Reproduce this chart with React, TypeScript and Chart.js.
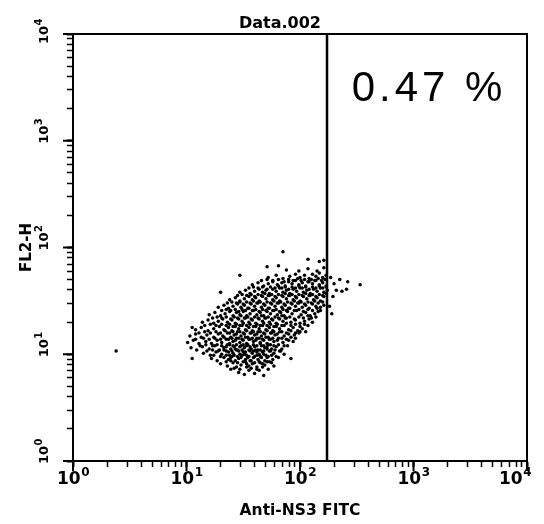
import React, { useEffect, useRef } from 'react';
import { Chart, registerables } from 'chart.js';

Chart.register(...registerables);

const TITLE = 'Data.002';
const X_TITLE = 'Anti-NS3 FITC';
const Y_TITLE = 'FL2-H';
const GATE_PERCENT = '0.47 %';
const GATE_X = [173];
const AXIS_RANGE = [1, 10000];
const DECADES = [1, 10, 100, 1000, 10000];
const DECADE_BASE = '10';
const DECADE_EXPONENTS = ['0', '1', '2', '3', '4'];
const MINOR_STEPS = [2, 3, 4, 5, 6, 7, 8, 9];

// events: [log10(Anti-NS3 FITC), log10(FL2-H)]
const eventsLog: [number, number][] = [
  [1.39,0.86],[1.46,0.83],[1.51,0.81],[1.55,0.85],[1.60,0.82],[1.64,0.85],[1.68,0.80],[1.72,0.86],
  [1.30,0.91],[1.36,0.89],[1.41,0.92],[1.44,0.88],[1.48,0.90],[1.52,0.93],[1.55,0.89],[1.58,0.91],[1.62,0.88],[1.65,0.92],[1.69,0.90],[1.73,0.93],[1.77,0.89],
  [1.22,0.96],[1.27,0.94],[1.33,0.97],[1.37,0.95],[1.40,0.98],[1.43,0.94],[1.46,0.96],[1.49,0.99],[1.52,0.95],[1.54,0.97],[1.57,0.94],[1.60,0.98],[1.63,0.95],[1.66,0.97],[1.69,0.94],[1.72,0.98],[1.76,0.95],[1.81,0.97],[1.92,0.96],
  [1.15,1.01],[1.21,0.99],[1.26,1.02],[1.31,1.00],[1.35,1.03],[1.38,0.99],[1.41,1.01],[1.44,1.04],[1.47,1.00],[1.50,1.02],[1.53,0.99],[1.56,1.03],[1.58,1.01],[1.61,1.04],[1.64,1.00],[1.67,1.02],[1.70,0.99],[1.73,1.03],[1.77,1.01],[1.82,1.03],[1.86,1.00],
  [1.04,1.06],[1.09,1.04],[1.14,1.07],[1.20,1.05],[1.25,1.08],[1.29,1.04],[1.33,1.06],[1.36,1.09],[1.39,1.05],[1.42,1.07],[1.45,1.04],[1.48,1.08],[1.51,1.06],[1.54,1.09],[1.57,1.05],[1.60,1.07],[1.63,1.04],[1.66,1.08],[1.69,1.06],[1.72,1.09],[1.75,1.05],[1.79,1.07],[1.84,1.05],[1.89,1.08],
  [1.01,1.11],[1.06,1.13],[1.11,1.10],[1.17,1.12],[1.22,1.10],[1.27,1.13],[1.31,1.11],[1.35,1.14],[1.38,1.10],[1.41,1.12],[1.44,1.15],[1.47,1.11],[1.50,1.13],[1.53,1.10],[1.56,1.14],[1.59,1.12],[1.62,1.15],[1.65,1.11],[1.68,1.13],[1.71,1.10],[1.74,1.14],[1.77,1.12],[1.81,1.15],[1.85,1.11],[1.90,1.13],[1.94,1.12],
  [1.03,1.17],[1.08,1.19],[1.13,1.16],[1.18,1.18],[1.24,1.16],[1.28,1.19],[1.32,1.17],[1.36,1.20],[1.39,1.16],[1.42,1.18],[1.45,1.21],[1.48,1.17],[1.51,1.19],[1.54,1.16],[1.57,1.20],[1.60,1.18],[1.63,1.21],[1.66,1.17],[1.69,1.19],[1.72,1.16],[1.75,1.20],[1.78,1.18],[1.82,1.21],[1.86,1.17],[1.90,1.19],[1.95,1.18],[1.99,1.20],
  [1.08,1.23],[1.13,1.25],[1.19,1.22],[1.24,1.24],[1.29,1.26],[1.33,1.23],[1.37,1.25],[1.40,1.22],[1.43,1.26],[1.46,1.24],[1.49,1.27],[1.52,1.23],[1.55,1.25],[1.58,1.22],[1.61,1.26],[1.64,1.24],[1.67,1.27],[1.70,1.23],[1.73,1.25],[1.76,1.22],[1.79,1.26],[1.82,1.24],[1.86,1.27],[1.90,1.23],[1.94,1.25],[1.98,1.22],[2.02,1.24],[2.05,1.21],
  [1.14,1.30],[1.19,1.32],[1.24,1.29],[1.28,1.31],[1.32,1.33],[1.36,1.30],[1.40,1.32],[1.43,1.29],[1.46,1.33],[1.49,1.31],[1.52,1.34],[1.55,1.30],[1.58,1.32],[1.61,1.29],[1.64,1.33],[1.67,1.31],[1.70,1.34],[1.73,1.30],[1.76,1.32],[1.79,1.29],[1.82,1.33],[1.85,1.31],[1.88,1.34],[1.92,1.30],[1.96,1.32],[2.00,1.29],[2.04,1.31],[2.08,1.33],[2.11,1.30],
  [1.20,1.37],[1.25,1.39],[1.30,1.36],[1.34,1.38],[1.38,1.40],[1.41,1.36],[1.44,1.39],[1.47,1.37],[1.50,1.40],[1.53,1.36],[1.56,1.38],[1.59,1.41],[1.62,1.37],[1.65,1.39],[1.68,1.36],[1.71,1.40],[1.74,1.38],[1.77,1.41],[1.80,1.37],[1.83,1.39],[1.86,1.36],[1.89,1.40],[1.93,1.38],[1.97,1.41],[2.01,1.37],[2.05,1.39],[2.09,1.36],[2.13,1.38],[2.16,1.40],
  [1.28,1.44],[1.33,1.46],[1.37,1.43],[1.41,1.45],[1.45,1.47],[1.48,1.44],[1.51,1.46],[1.54,1.43],[1.57,1.47],[1.60,1.45],[1.63,1.48],[1.66,1.44],[1.69,1.46],[1.72,1.43],[1.75,1.47],[1.78,1.45],[1.81,1.48],[1.84,1.44],[1.87,1.46],[1.90,1.43],[1.93,1.47],[1.96,1.45],[1.99,1.48],[2.02,1.44],[2.05,1.46],[2.08,1.43],[2.11,1.47],[2.14,1.45],[2.18,1.44],[2.21,1.46],
  [1.38,1.51],[1.43,1.53],[1.47,1.50],[1.51,1.52],[1.55,1.54],[1.58,1.51],[1.61,1.53],[1.64,1.50],[1.67,1.54],[1.70,1.52],[1.73,1.55],[1.76,1.51],[1.79,1.53],[1.82,1.50],[1.85,1.54],[1.88,1.52],[1.91,1.55],[1.94,1.51],[1.97,1.53],[2.00,1.50],[2.03,1.54],[2.06,1.52],[2.09,1.55],[2.12,1.51],[2.15,1.53],[2.18,1.50],[2.21,1.54],
  [1.47,1.58],[1.52,1.60],[1.56,1.57],[1.60,1.59],[1.64,1.61],[1.67,1.58],[1.70,1.60],[1.73,1.57],[1.76,1.61],[1.79,1.59],[1.82,1.62],[1.85,1.58],[1.88,1.60],[1.91,1.57],[1.94,1.61],[1.97,1.59],[2.00,1.62],[2.03,1.58],[2.06,1.60],[2.09,1.57],[2.12,1.61],[2.15,1.59],[2.18,1.62],[2.21,1.58],[2.24,1.60],
  [1.58,1.65],[1.63,1.67],[1.68,1.64],[1.72,1.66],[1.76,1.68],[1.80,1.65],[1.84,1.67],[1.87,1.64],[1.90,1.68],[1.93,1.66],[1.96,1.69],[1.99,1.65],[2.02,1.67],[2.05,1.64],[2.08,1.68],[2.11,1.66],[2.14,1.69],[2.17,1.65],[2.20,1.67],[2.23,1.64],
  [1.72,1.72],[1.79,1.74],[1.85,1.71],[1.91,1.73],[1.96,1.75],[2.00,1.72],[2.04,1.74],[2.08,1.71],[2.11,1.75],[2.14,1.73],[2.17,1.76],[2.20,1.72],[2.23,1.74],
  [1.88,1.79],[1.99,1.78],[2.07,1.80],[2.15,1.78],[2.21,1.81],
  [1.71,1.82],[1.81,1.83],[1.85,1.96],[2.07,1.89],[2.17,1.87],[2.21,1.88],[2.53,1.65],[2.35,1.70],[2.42,1.68],[2.41,1.61],[2.29,1.54],[2.26,1.45],[2.30,1.66],[2.27,1.72],[2.32,1.60],[0.38,1.03],[1.05,0.96],[1.47,1.74],[1.30,1.58],[2.37,1.59],[2.28,1.38],[1.05,1.25],
  [1.42,0.87],[1.47,0.86],[1.53,0.88],[1.57,0.87],[1.62,0.86],[1.67,0.88],
  [1.35,0.93],[1.39,0.94],[1.45,0.92],[1.50,0.93],[1.53,0.91],[1.56,0.94],[1.60,0.92],[1.64,0.93],[1.67,0.91],[1.71,0.93],[1.75,0.92],
  [1.24,0.99],[1.30,0.98],[1.35,0.99],[1.39,0.97],[1.42,0.99],[1.45,0.98],[1.48,0.97],[1.51,1.00],[1.55,0.98],[1.59,0.97],[1.62,0.99],[1.65,0.98],[1.68,1.00],[1.71,0.97],[1.75,0.99],[1.79,0.98],
  [1.18,1.03],[1.23,1.04],[1.28,1.03],[1.33,1.04],[1.37,1.02],[1.40,1.03],[1.43,1.05],[1.46,1.03],[1.49,1.04],[1.52,1.02],[1.55,1.04],[1.59,1.03],[1.62,1.02],[1.65,1.04],[1.68,1.03],[1.71,1.05],[1.74,1.03],[1.78,1.04],[1.83,1.03],
  [1.12,1.08],[1.17,1.09],[1.23,1.08],[1.27,1.09],[1.31,1.08],[1.35,1.07],[1.38,1.09],[1.41,1.08],[1.44,1.09],[1.47,1.07],[1.50,1.09],[1.53,1.08],[1.56,1.07],[1.59,1.09],[1.62,1.08],[1.65,1.10],[1.68,1.08],[1.71,1.07],[1.74,1.09],[1.77,1.08],[1.81,1.09],[1.86,1.08],
  [1.08,1.14],[1.15,1.15],[1.20,1.14],[1.25,1.15],[1.30,1.14],[1.33,1.16],[1.37,1.14],[1.40,1.15],[1.43,1.13],[1.46,1.15],[1.49,1.14],[1.52,1.16],[1.55,1.14],[1.58,1.15],[1.61,1.13],[1.64,1.15],[1.67,1.14],[1.70,1.16],[1.73,1.14],[1.76,1.15],[1.80,1.13],[1.84,1.15],[1.88,1.14],[1.92,1.16],[1.96,1.15],
  [1.11,1.20],[1.16,1.21],[1.21,1.20],[1.26,1.21],[1.30,1.20],[1.34,1.22],[1.38,1.20],[1.41,1.21],[1.44,1.19],[1.47,1.21],[1.50,1.20],[1.53,1.22],[1.56,1.20],[1.59,1.21],[1.62,1.19],[1.65,1.21],[1.68,1.20],[1.71,1.22],[1.74,1.20],[1.77,1.21],[1.80,1.19],[1.84,1.21],[1.88,1.20],[1.92,1.22],[1.96,1.20],[2.00,1.21],
  [1.16,1.27],[1.21,1.28],[1.26,1.27],[1.31,1.28],[1.35,1.27],[1.38,1.28],[1.41,1.26],[1.44,1.28],[1.47,1.27],[1.50,1.29],[1.53,1.27],[1.56,1.28],[1.59,1.26],[1.62,1.28],[1.65,1.27],[1.68,1.29],[1.71,1.27],[1.74,1.28],[1.77,1.26],[1.80,1.28],[1.84,1.27],[1.88,1.29],[1.92,1.27],[1.96,1.28],[2.00,1.26],[2.04,1.28],[2.07,1.27],
  [1.23,1.34],[1.27,1.35],[1.31,1.34],[1.35,1.35],[1.39,1.33],[1.42,1.35],[1.45,1.34],[1.48,1.36],[1.51,1.34],[1.54,1.35],[1.57,1.33],[1.60,1.35],[1.63,1.34],[1.66,1.36],[1.69,1.34],[1.72,1.35],[1.75,1.33],[1.78,1.35],[1.81,1.34],[1.84,1.36],[1.87,1.34],[1.91,1.35],[1.95,1.33],[1.99,1.35],[2.03,1.34],[2.07,1.36],[2.10,1.34],[2.14,1.35],
  [1.31,1.41],[1.35,1.42],[1.39,1.41],[1.43,1.42],[1.46,1.40],[1.49,1.42],[1.52,1.41],[1.55,1.43],[1.58,1.41],[1.61,1.42],[1.64,1.40],[1.67,1.42],[1.70,1.41],[1.73,1.43],[1.76,1.41],[1.79,1.42],[1.82,1.40],[1.85,1.42],[1.88,1.41],[1.91,1.43],[1.95,1.41],[1.99,1.42],[2.03,1.40],[2.07,1.42],[2.11,1.41],[2.15,1.43],[2.18,1.41],
  [1.36,1.48],[1.40,1.49],[1.44,1.48],[1.47,1.49],[1.50,1.47],[1.53,1.49],[1.56,1.48],[1.59,1.50],[1.62,1.48],[1.65,1.49],[1.68,1.47],[1.71,1.49],[1.74,1.48],[1.77,1.50],[1.80,1.48],[1.83,1.49],[1.86,1.47],[1.89,1.49],[1.92,1.48],[1.95,1.50],[1.98,1.48],[2.01,1.49],[2.04,1.47],[2.07,1.49],[2.10,1.48],[2.13,1.50],[2.16,1.48],[2.20,1.49],
  [1.45,1.55],[1.49,1.56],[1.53,1.55],[1.57,1.56],[1.60,1.54],[1.63,1.56],[1.66,1.55],[1.69,1.57],[1.72,1.55],[1.75,1.56],[1.78,1.54],[1.81,1.56],[1.84,1.55],[1.87,1.57],[1.90,1.55],[1.93,1.56],[1.96,1.54],[1.99,1.56],[2.02,1.55],[2.05,1.57],[2.08,1.55],[2.11,1.56],[2.14,1.54],[2.17,1.56],[2.20,1.55],[2.23,1.57],
  [1.55,1.62],[1.59,1.63],[1.63,1.62],[1.67,1.63],[1.71,1.61],[1.74,1.63],[1.78,1.62],[1.81,1.64],[1.84,1.62],[1.87,1.63],[1.90,1.61],[1.93,1.63],[1.96,1.62],[1.99,1.64],[2.02,1.62],[2.05,1.63],[2.08,1.61],[2.11,1.63],[2.14,1.62],[2.17,1.64],[2.20,1.62],[2.23,1.63],
  [1.66,1.69],[1.71,1.70],[1.76,1.69],[1.81,1.70],[1.86,1.68],[1.90,1.70],[1.94,1.69],[1.98,1.71],[2.01,1.69],[2.04,1.70],[2.07,1.68],[2.10,1.70],[2.13,1.69],[2.16,1.71],[2.19,1.69],[2.22,1.70],
];

const tickValues = DECADES.flatMap((d, i) =>
  i < DECADES.length - 1 ? [d, ...MINOR_STEPS.map((m) => d * m)] : [d]
);

const BASE_FONT_X = 'bold 17px "DejaVu Sans"';
const EXP_FONT_X = 'bold 12px "DejaVu Sans"';
const BASE_FONT_Y = 'bold 13px "DejaVu Sans"';
const EXP_FONT_Y = 'bold 10px "DejaVu Sans"';

const decorPlugin = {
  id: 'decor',
  afterDraw(chart: any) {
    const { ctx, chartArea: a, scales } = chart;
    const xs = scales.x;
    const ys = scales.y;
    ctx.save();
    ctx.strokeStyle = '#000';
    ctx.lineWidth = 2;
    ctx.strokeRect(a.left, a.top, a.right - a.left, a.bottom - a.top);
    ctx.beginPath();
    DECADES.forEach((v) => {
      const px = xs.getPixelForValue(v);
      ctx.moveTo(px, a.bottom);
      ctx.lineTo(px, a.bottom + 10);
      const py = ys.getPixelForValue(v);
      ctx.moveTo(a.left, py);
      ctx.lineTo(a.left - 10, py);
    });
    ctx.stroke();

    ctx.fillStyle = '#000';
    ctx.textBaseline = 'alphabetic';
    ctx.textAlign = 'left';

    // x decade labels: 10 with raised exponent
    DECADES.forEach((v, i) => {
      const px = xs.getPixelForValue(v);
      ctx.font = BASE_FONT_X;
      const w1 = ctx.measureText(DECADE_BASE).width;
      ctx.font = EXP_FONT_X;
      const w2 = ctx.measureText(DECADE_EXPONENTS[i]).width;
      let left = px - (w1 + w2) / 2;
      if (left + w1 + w2 > 531) left = 531 - w1 - w2;
      ctx.font = BASE_FONT_X;
      ctx.fillText(DECADE_BASE, left, a.bottom + 23);
      ctx.font = EXP_FONT_X;
      ctx.fillText(DECADE_EXPONENTS[i], left + w1 + 0.5, a.bottom + 15);
    });

    // y decade labels, rotated, reading upward
    DECADES.forEach((v, i) => {
      const py = ys.getPixelForValue(v);
      ctx.font = BASE_FONT_Y;
      const w1 = ctx.measureText(DECADE_BASE).width;
      ctx.font = EXP_FONT_Y;
      const w2 = ctx.measureText(DECADE_EXPONENTS[i]).width;
      const start = Math.max(py + 3, 19 + w1 + w2);
      ctx.save();
      ctx.translate(a.left - 25, start);
      ctx.rotate(-Math.PI / 2);
      ctx.font = BASE_FONT_Y;
      ctx.fillText(DECADE_BASE, 0, 0);
      ctx.font = EXP_FONT_Y;
      ctx.fillText(DECADE_EXPONENTS[i], w1 + 0.5, -6);
      ctx.restore();
    });

    ctx.textAlign = 'center';
    ctx.font = 'bold 16px "DejaVu Sans"';
    ctx.fillText(TITLE, (a.left + a.right) / 2 - 20, a.top - 6);
    const gx = xs.getPixelForValue(GATE_X[0]);
    ctx.font = '42px "Liberation Sans"';
    (ctx as any).letterSpacing = '4px';
    ctx.fillText(GATE_PERCENT, (gx + a.right) / 2 + 2, a.top + 67);
    ctx.restore();
  },
};

export default function App() {
  const ref = useRef<HTMLCanvasElement | null>(null);
  useEffect(() => {
    if (!ref.current) return;
    const tickWidth = (ctx: any) => (ctx.tick && DECADES.includes(ctx.tick.value) ? 2 : 1.5);
    const chart = new Chart(ref.current, {
      type: 'scatter',
      data: {
        datasets: [
          {
            label: 'events',
            data: eventsLog.map(([a, b]) => ({ x: Math.pow(10, a), y: Math.pow(10, b) })),
            backgroundColor: '#000',
            borderWidth: 0,
            pointRadius: 1.75,
            pointHoverRadius: 1.75,
          },
          {
            type: 'line',
            label: 'gate',
            data: [
              { x: GATE_X[0], y: AXIS_RANGE[0] },
              { x: GATE_X[0], y: AXIS_RANGE[1] },
            ],
            borderColor: '#000',
            borderWidth: 2.5,
            pointRadius: 0,
            showLine: true,
          } as any,
        ],
      },
      options: {
        responsive: false,
        animation: false,
        events: [],
        layout: { padding: { top: 34, right: 17, bottom: 0, left: 0 } },
        plugins: { legend: { display: false }, tooltip: { enabled: false }, title: { display: false } },
        scales: {
          x: {
            type: 'logarithmic',
            min: AXIS_RANGE[0],
            max: AXIS_RANGE[1],
            afterBuildTicks: (s: any) => { s.ticks = tickValues.map((v) => ({ value: v })); },
            afterFit: (s: any) => { s.height = 63; },
            border: { display: true, color: '#000', width: 2 },
            grid: { display: true, drawOnChartArea: false, drawTicks: true, tickLength: 6, tickColor: '#000', tickWidth, color: '#000' },
            ticks: { autoSkip: false, maxRotation: 0, minRotation: 0, callback: () => '' },
            title: {
              display: true,
              text: X_TITLE,
              color: '#000',
              font: { family: 'DejaVu Sans', size: 15.5, weight: 'bold' },
              padding: { top: 0, bottom: 4 },
            },
          },
          y: {
            type: 'logarithmic',
            min: AXIS_RANGE[0],
            max: AXIS_RANGE[1],
            afterBuildTicks: (s: any) => { s.ticks = tickValues.map((v) => ({ value: v })); },
            afterFit: (s: any) => { s.width = 73; },
            border: { display: true, color: '#000', width: 2 },
            grid: { display: true, drawOnChartArea: false, drawTicks: true, tickLength: 6, tickColor: '#000', tickWidth, color: '#000' },
            ticks: { autoSkip: false, callback: () => '' },
            title: {
              display: true,
              text: Y_TITLE,
              color: '#000',
              font: { family: 'DejaVu Sans', size: 15, weight: 'bold' },
              padding: { top: 18, bottom: 0 },
            },
          },
        },
      },
      plugins: [decorPlugin],
    } as any);
    return () => chart.destroy();
  }, []);
  return (
    <div style={{ position: 'absolute', left: 0, top: 0, width: 544, height: 524, background: '#fff' }}>
      <canvas ref={ref} width={544} height={524} style={{ display: 'block' }} />
    </div>
  );
}
